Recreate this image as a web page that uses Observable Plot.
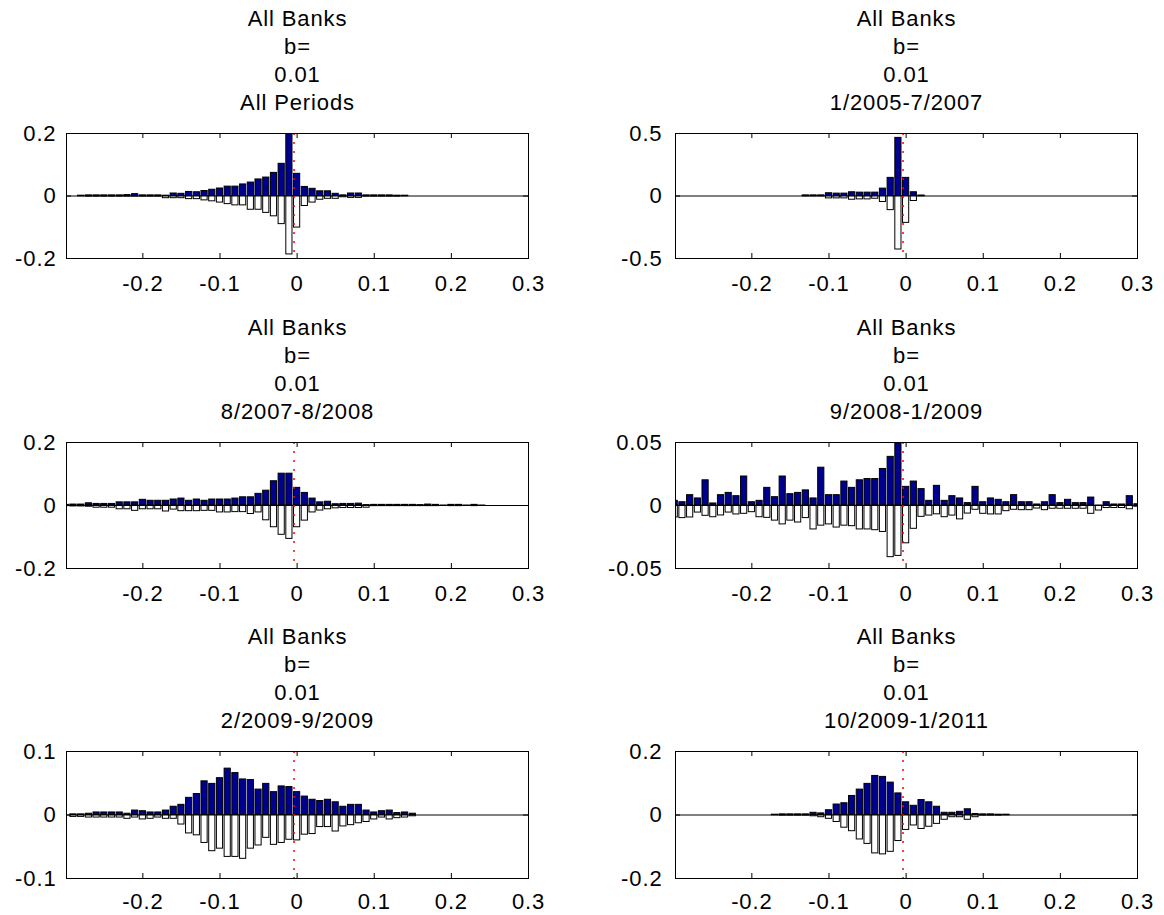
<!DOCTYPE html>
<html><head><meta charset="utf-8">
<script src="https://cdn.jsdelivr.net/npm/d3@7"></script>
<script src="https://cdn.jsdelivr.net/npm/@observablehq/plot@0.6"></script>
<style>
body{margin:0;background:#fff;overflow:hidden}
#fig{position:relative;width:1164px;height:915px;background:#fff}
#fig svg{position:absolute}
</style></head><body><div id="fig"></div>
<script>
// bin centres (b = 0.01)
const binCenters = [-0.30,-0.29,-0.28,-0.27,-0.26,-0.25,-0.24,-0.23,-0.22,-0.21,
  -0.20,-0.19,-0.18,-0.17,-0.16,-0.15,-0.14,-0.13,-0.12,-0.11,
  -0.10,-0.09,-0.08,-0.07,-0.06,-0.05,-0.04,-0.03,-0.02,-0.01,
  0.00,0.01,0.02,0.03,0.04,0.05,0.06,0.07,0.08,0.09,
  0.10,0.11,0.12,0.13,0.14,0.15,0.16,0.17,0.18,0.19,
  0.20,0.21,0.22,0.23,0.24,0.25,0.26,0.27,0.28,0.29,0.30];

const titleLines = ["All Banks", "b=", "0.01"];
const periods = ["All Periods", "1/2005-7/2007", "8/2007-8/2008", "9/2008-1/2009", "2/2009-9/2009", "10/2009-1/2011"];
const yLimits = [0.2, 0.5, 0.2, 0.05, 0.1, 0.2];
const xTicks = [-0.2, -0.1, 0, 0.1, 0.2, 0.3];
const markerX = -0.004;

// Panel 1: All Periods
const up1 = [0,0,0.001,0.002,0.002,0.002,0.002,0.002,0.003,0.006,
  0.002,0.002,0.002,0.001,0.008,0.007,0.013,0.012,0.016,0.020,
  0.024,0.030,0.030,0.037,0.043,0.053,0.059,0.074,0.103,0.2,
  0.071,0.029,0.023,0.015,0.015,0.007,0.002,0.008,0.008,0.002,
  0.002,0.002,0.002,0.001,0.001,0,0,0,0,0,
  0,0,0,0,0,0,0,0,0,0,0];
const down1 = [0,0,-0.001,-0.002,-0.002,-0.002,-0.002,-0.002,-0.002,-0.002,
  -0.002,-0.002,-0.002,-0.007,-0.007,-0.007,-0.010,-0.010,-0.014,-0.017,
  -0.021,-0.026,-0.030,-0.030,-0.044,-0.044,-0.054,-0.065,-0.090,-0.187,
  -0.101,-0.032,-0.021,-0.012,-0.009,-0.009,-0.004,-0.006,-0.006,-0.002,
  -0.002,-0.002,-0.002,-0.002,-0.001,0,0,0,0,0,
  0,0,0,0,0,0,0,0,0,0,0];

// Panel 2: 1/2005-7/2007
const up2 = [0,0,0,0,0,0,0,0,0,0,
  0,0,0,0,0,0,0,0.005,0.005,0.005,
  0.022,0.019,0.019,0.030,0.027,0.027,0.027,0.059,0.145,0.465,
  0.145,0.030,0.004,0,0,0,0,0,0,0,
  0,0,0,0,0,0,0,0,0,0,
  0,0,0,0,0,0,0,0,0,0,0];
const down2 = [0,0,0,0,0,0,0,0,0,0,
  0,0,0,0,0,0,0,-0.003,-0.003,-0.003,
  -0.019,-0.019,-0.019,-0.030,-0.027,-0.027,-0.022,-0.048,-0.113,-0.428,
  -0.215,-0.040,-0.002,0,0,0,0,0,0,0,
  0,0,0,0,0,0,0,0,0,0,
  0,0,0,0,0,0,0,0,0,0,0];

// Panel 3: 8/2007-8/2008
const up3 = [0.002,0.003,0.003,0.007,0.005,0.005,0.005,0.010,0.010,0.010,
  0.018,0.015,0.015,0.015,0.019,0.022,0.015,0.019,0.015,0.019,
  0.019,0.019,0.022,0.026,0.026,0.037,0.047,0.077,0.101,0.101,
  0.056,0.040,0.022,0.010,0.012,0.004,0.005,0.005,0.006,0.001,
  0.002,0.002,0.002,0.002,0.002,0.002,0.001,0.003,0.002,0,
  0.002,0.002,0,0.002,0,0,0,0,0,0,0];
const down3 = [-0.002,-0.003,-0.003,-0.004,-0.007,-0.007,-0.007,-0.012,-0.012,-0.017,
  -0.012,-0.012,-0.012,-0.019,-0.013,-0.018,-0.018,-0.018,-0.017,-0.017,
  -0.022,-0.022,-0.021,-0.021,-0.027,-0.022,-0.047,-0.069,-0.093,-0.106,
  -0.069,-0.048,-0.022,-0.016,-0.012,-0.009,-0.008,-0.008,-0.008,-0.007,
  -0.002,-0.002,-0.002,-0.002,-0.002,-0.002,-0.002,-0.002,-0.002,-0.001,
  -0.002,-0.002,-0.001,-0.002,-0.001,0,0,0,0,0,0];

// Panel 4: 9/2008-1/2009
const up4 = [0.0037,0.0026,0.0082,0.0056,0.020,0.0016,0.0082,0.010,0.0074,0.023,
  0.0026,0.0037,0.014,0.0066,0.023,0.009,0.010,0.012,0.0056,0.030,
  0.0082,0.0082,0.019,0.014,0.020,0.021,0.021,0.029,0.0386,0.05,
  0.0148,0.019,0.013,0.0037,0.0156,0.0037,0.0074,0.0056,0.0019,0.0148,
  0.0026,0.0056,0.0045,0.0026,0.0082,0.0026,0.0026,0.0008,0.0026,0.0082,
  0.0019,0.0045,0.0019,0.0019,0.0063,0,0.0026,0.0008,0.0008,0.0074,0.001];
const down4 = [-0.0095,-0.010,-0.0095,-0.0056,-0.0082,-0.0093,-0.0079,-0.0056,-0.0071,-0.0066,
  -0.0053,-0.0093,-0.0098,-0.012,-0.015,-0.012,-0.0135,-0.010,-0.019,-0.016,
  -0.015,-0.0175,-0.016,-0.0164,-0.019,-0.019,-0.0196,-0.021,-0.041,-0.040,
  -0.030,-0.0185,-0.009,-0.008,-0.007,-0.0093,-0.008,-0.011,-0.0064,-0.0034,
  -0.0066,-0.0071,-0.0071,-0.0045,-0.0034,-0.0037,-0.0037,-0.0024,-0.0037,-0.0026,
  -0.0026,-0.0026,-0.0026,-0.0026,-0.0066,-0.004,-0.002,-0.002,-0.002,-0.003,-0.001];

// Panel 5: 2/2009-9/2009
const up5 = [0,0.001,0.001,0.002,0.004,0.004,0.004,0.004,0.002,0.007,
  0.006,0.004,0.004,0.007,0.013,0.016,0.027,0.033,0.053,0.049,
  0.058,0.073,0.066,0.056,0.055,0.040,0.049,0.036,0.045,0.044,
  0.036,0.029,0.024,0.022,0.024,0.020,0.013,0.016,0.016,0.007,
  0.004,0.006,0.007,0.003,0.004,0.002,0,0,0,0,
  0,0,0,0,0,0,0,0,0,0,0];
const down5 = [0,-0.003,-0.003,-0.004,-0.004,-0.004,-0.004,-0.004,-0.006,-0.004,
  -0.007,-0.006,-0.004,-0.006,-0.006,-0.015,-0.029,-0.032,-0.044,-0.057,
  -0.053,-0.066,-0.066,-0.069,-0.053,-0.048,-0.036,-0.047,-0.044,-0.039,
  -0.040,-0.031,-0.030,-0.019,-0.019,-0.026,-0.018,-0.016,-0.013,-0.011,
  -0.007,-0.004,-0.007,-0.005,-0.004,-0.002,0,0,0,0,
  0,0,0,0,0,0,0,0,0,0,0];

// Panel 6: 10/2009-1/2011
const up6 = [0,0,0,0,0,0,0,0,0,0,
  0,0,0,0.001,0.002,0.002,0.002,0.002,0.007,0.005,
  0.015,0.033,0.037,0.060,0.080,0.098,0.123,0.120,0.102,0.068,
  0.040,0.029,0.047,0.040,0.026,0.007,0.007,0.010,0.018,0.003,
  0.002,0.002,0.001,0.001,0,0,0,0,0,0,
  0,0,0,0,0,0,0,0,0,0,0];
const down6 = [0,0,0,0,0,0,0,0,0,0,
  0,0,0,-0.001,-0.002,-0.002,-0.002,-0.002,-0.004,-0.007,
  -0.012,-0.022,-0.040,-0.051,-0.077,-0.091,-0.121,-0.124,-0.116,-0.082,
  -0.047,-0.033,-0.044,-0.037,-0.028,-0.015,-0.007,-0.007,-0.015,-0.007,
  -0.002,-0.002,-0.002,-0.001,0,0,0,0,0,0,
  0,0,0,0,0,0,0,0,0,0,0];

const ups = [up1, up2, up3, up4, up5, up6];
const downs = [down1, down2, down3, down4, down5, down6];

const fig = document.getElementById("fig");
const halfW = 0.004;

for (let i = 0; i < 6; i++) {
  const col = i % 2, row = Math.floor(i / 2);
  const W = 582;
  const ml = col === 0 ? 66 : 93, mr = col === 0 ? 54 : 27;
  const mt = [133, 132, 131][row], mb = [52, 52, 35][row];
  const H = [310, 310, 293][row];
  const fh = H - mt - mb, fw = W - ml - mr;
  const lim = yLimits[i];
  const yTicks = [-lim, 0, lim];
  const data = binCenters.map((c, k) => ({c, up: ups[i][k], down: downs[i][k]}));
  const svg = Plot.plot({
    width: W, height: H,
    marginLeft: ml, marginRight: mr, marginTop: mt, marginBottom: mb,
    style: {fontFamily: "'Liberation Sans', Arial, sans-serif", fontSize: "22px", letterSpacing: "0.04em", background: "white", overflow: "visible", color: "black"},
    x: {domain: [-0.299, 0.3]},
    y: {domain: [-lim, lim]},
    marks: [
      Plot.rect(data.filter(d => d.up > 0), {x1: d => d.c - halfW, x2: d => d.c + halfW, y1: 0, y2: "up", fill: "#00008F", stroke: "black", strokeWidth: 1, clip: true}),
      Plot.rect(data.filter(d => d.down < 0), {x1: d => d.c - halfW, x2: d => d.c + halfW, y1: 0, y2: "down", fill: "white", stroke: "black", strokeWidth: 1, clip: true}),
      Plot.ruleY([0], {stroke: "black", strokeWidth: 1}),
      Plot.ruleX([markerX], {stroke: "red", strokeDasharray: "2,7", strokeWidth: 1.5}),
      Plot.frame({stroke: "black"}),
      Plot.tickX(xTicks, {x: d => d, insetTop: fh - 5, stroke: "black"}),
      Plot.tickX(xTicks, {x: d => d, insetBottom: fh - 5, stroke: "black"}),
      Plot.tickY(yTicks, {y: d => d, insetRight: fw - 5, stroke: "black"}),
      Plot.tickY(yTicks, {y: d => d, insetLeft: fw - 5, stroke: "black"}),
      Plot.axisX(xTicks, {tickSize: 0, tickPadding: row === 2 ? 15 : 17, tickFormat: d => String(d)}),
      Plot.axisY(yTicks, {tickSize: 0, tickPadding: col === 0 ? 10 : 13, tickFormat: d => String(d)}),
      Plot.text([[...titleLines, periods[i]].join("\n")], {text: d => d, frameAnchor: "top", dy: -127, lineAnchor: "top", lineHeight: 1.27})
    ]
  });
  svg.style.left = (col * 582) + "px";
  svg.style.top = (row * 310) + "px";
  fig.appendChild(svg);
}
</script></body></html>
